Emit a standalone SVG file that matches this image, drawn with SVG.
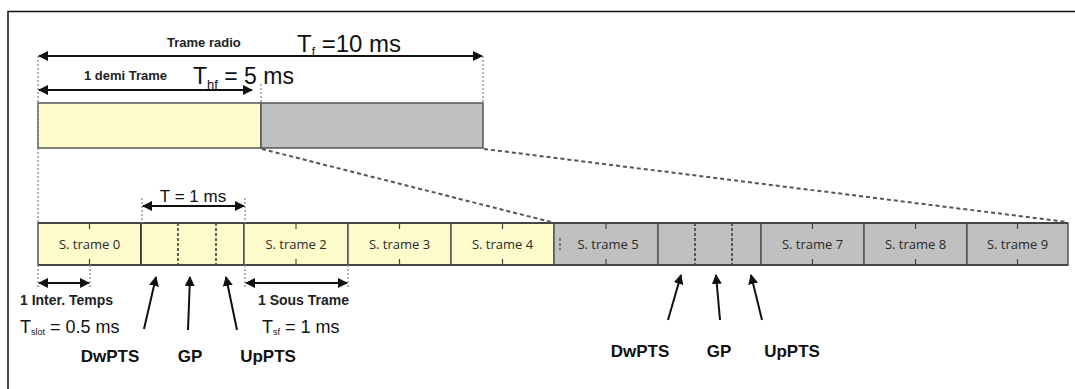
<svg xmlns="http://www.w3.org/2000/svg" width="1075" height="389" viewBox="0 0 1075 389">
  <defs>
    <marker id="head" viewBox="0 0 10 10" refX="9" refY="5" markerWidth="5" markerHeight="5" orient="auto-start-reverse" markerUnits="strokeWidth">
      <path d="M0,0 L10,5 L0,10 Z" fill="#111"/>
    </marker>
    <marker id="up" viewBox="0 0 10 10" refX="9" refY="5" markerWidth="5" markerHeight="5" orient="auto" markerUnits="strokeWidth">
      <path d="M0,0 L10,5 L0,10 Z" fill="#111"/>
    </marker>
  </defs>
  <style>
    .frame { fill: none; stroke: #111; stroke-width: 1.5; }
    .dim { stroke: #111; stroke-width: 2; fill: none; marker-start: url(#head); marker-end: url(#head); }
    .ptr { stroke: #111; stroke-width: 2; fill: none; marker-end: url(#up); }
    .guide { stroke: #999; stroke-width: 1.5; stroke-dasharray: 2 2; fill: none; }
    .zoom { stroke: #555; stroke-width: 2; stroke-dasharray: 4 3; fill: none; }
    .yel { fill: #fdfbcc; stroke: #555; stroke-width: 1.5; }
    .gry { fill: #c0c0c0; stroke: #555; stroke-width: 1.5; }
    .tick { stroke: #444; stroke-width: 1.2; }
    .split { stroke: #333; stroke-width: 1.5; stroke-dasharray: 3 2; }
    .cell { font-family: "Open Sans", "Liberation Sans", sans-serif; font-size: 13px; fill: #2a2a2a; text-anchor: middle; }
    .small { font-family: "Liberation Sans", Arial, sans-serif; font-size: 13px; font-weight: bold; fill: #222; }
    .small2 { font-family: "Liberation Sans", Arial, sans-serif; font-size: 14px; font-weight: bold; fill: #222; }
    .big { font-family: "Liberation Sans", Arial, sans-serif; fill: #111; }
    .lbl { font-family: "Liberation Sans", Arial, sans-serif; font-size: 17px; font-weight: bold; fill: #111; text-anchor: middle; }
  </style>

  <rect width="1075" height="389" fill="#fff"/>
  <!-- outer frame, left and top edges -->
  <path class="frame" d="M8,389 V11.5 H1075"/>

  <!-- radio frame: two half frames -->
  <g id="half-frame-1"><rect class="yel" x="38" y="103" width="223" height="45"/></g>
  <g id="half-frame-2"><rect class="gry" x="261" y="103" width="222" height="45"/></g>

  <!-- subframes -->
  <g id="sf0"><rect class="yel" x="38" y="223" width="103" height="42"/><line class="tick" x1="89.5" y1="223" x2="89.5" y2="229"/><line class="tick" x1="89.5" y1="259" x2="89.5" y2="265"/><text class="cell" x="89.5" y="249">S. trame 0</text></g>
  <g id="sf1"><rect class="yel" x="141" y="223" width="103" height="42" style="stroke:#222"/><line class="split" x1="178" y1="223" x2="178" y2="265"/><line class="split" x1="216" y1="223" x2="216" y2="265"/></g>
  <g id="sf2"><rect class="yel" x="244" y="223" width="104" height="42"/><line class="tick" x1="296" y1="223" x2="296" y2="229"/><line class="tick" x1="296" y1="259" x2="296" y2="265"/><text class="cell" x="296" y="249">S. trame 2</text></g>
  <g id="sf3"><rect class="yel" x="348" y="223" width="103" height="42"/><line class="tick" x1="399.5" y1="223" x2="399.5" y2="229"/><line class="tick" x1="399.5" y1="259" x2="399.5" y2="265"/><text class="cell" x="399.5" y="249">S. trame 3</text></g>
  <g id="sf4"><rect class="yel" x="451" y="223" width="103" height="42"/><line class="tick" x1="502.5" y1="223" x2="502.5" y2="229"/><line class="tick" x1="502.5" y1="259" x2="502.5" y2="265"/><text class="cell" x="502.5" y="249">S. trame 4</text></g>
  <g id="sf5"><rect class="gry" x="554" y="223" width="104" height="42"/><line class="tick" x1="606" y1="223" x2="606" y2="229"/><line class="tick" x1="606" y1="259" x2="606" y2="265"/><line class="split" x1="560" y1="238" x2="560" y2="250" style="stroke-width:1"/><text class="cell" x="608" y="249">S. trame 5</text></g>
  <g id="sf6"><rect class="gry" x="658" y="223" width="103" height="42"/><line class="split" x1="695" y1="223" x2="695" y2="265"/><line class="split" x1="732" y1="223" x2="732" y2="265"/></g>
  <g id="sf7"><rect class="gry" x="761" y="223" width="103" height="42"/><line class="tick" x1="812.5" y1="223" x2="812.5" y2="229"/><line class="tick" x1="812.5" y1="259" x2="812.5" y2="265"/><text class="cell" x="812.5" y="249">S. trame 7</text></g>
  <g id="sf8"><rect class="gry" x="864" y="223" width="103" height="42"/><line class="tick" x1="915.5" y1="223" x2="915.5" y2="229"/><line class="tick" x1="915.5" y1="259" x2="915.5" y2="265"/><text class="cell" x="915.5" y="249">S. trame 8</text></g>
  <g id="sf9"><rect class="gry" x="967" y="223" width="101" height="42"/><line class="tick" x1="1017.5" y1="223" x2="1017.5" y2="229"/><line class="tick" x1="1017.5" y1="259" x2="1017.5" y2="265"/><text class="cell" x="1017.5" y="249">S. trame 9</text></g>
  <line x1="38" y1="223" x2="1068" y2="223" stroke="#444" stroke-width="2"/>
  <line x1="38" y1="265" x2="1068" y2="265" stroke="#444" stroke-width="2"/>

  <!-- connectors: guides, zoom lines, dimension arrows and pointers -->
  <g id="connectors">
    <line class="guide" x1="38" y1="56" x2="38" y2="223"/>
    <line class="guide" x1="483" y1="56" x2="483" y2="103"/>
    <line class="guide" x1="261" y1="84" x2="261" y2="103"/>
    <line class="guide" x1="142" y1="198" x2="142" y2="223"/>
    <line class="guide" x1="245" y1="198" x2="245" y2="223"/>
    <line class="guide" x1="38" y1="265" x2="38" y2="288"/>
    <line class="guide" x1="90" y1="265" x2="90" y2="288"/>
    <line class="guide" x1="245" y1="265" x2="245" y2="288"/>
    <line class="guide" x1="348" y1="265" x2="348" y2="288"/>

    <line class="zoom" x1="262" y1="149" x2="551" y2="222"/>
    <line class="zoom" x1="484" y1="149" x2="1067" y2="222"/>

    <line class="dim" x1="39" y1="56" x2="482" y2="56"/>
    <line class="dim" x1="39" y1="90" x2="252" y2="90"/>
    <line class="dim" x1="143" y1="206" x2="244" y2="206"/>
    <line class="dim" x1="39" y1="283" x2="89" y2="283"/>
    <line class="dim" x1="246" y1="283" x2="347" y2="283"/>

    <line class="ptr" x1="144" y1="329" x2="156" y2="277"/>
    <line class="ptr" x1="188" y1="330" x2="190" y2="277"/>
    <line class="ptr" x1="237" y1="330" x2="226" y2="277"/>
    <line class="ptr" x1="668" y1="320" x2="681" y2="275"/>
    <line class="ptr" x1="720" y1="320" x2="716" y2="275"/>
    <line class="ptr" x1="762" y1="320" x2="751" y2="275"/>
  </g>

  <!-- labels -->
  <text class="small" x="167" y="47">Trame radio</text>
  <text class="big" x="297" y="52" font-size="24">T<tspan font-size="12" dy="4">f</tspan><tspan dy="-4"> =10 ms</tspan></text>
  <text class="small" x="84" y="80">1 demi Trame</text>
  <text class="big" x="193" y="84" font-size="23">T<tspan font-size="13" dy="5">hf</tspan><tspan dy="-5"> = 5 ms</tspan></text>
  <text class="big" x="193" y="202" font-size="17" text-anchor="middle">T = 1 ms</text>

  <text class="small2" x="20" y="305">1 Inter. Temps</text>
  <text class="big" x="20" y="333" font-size="18">T<tspan font-size="9" dy="2">slot</tspan><tspan dy="-2"> = 0.5 ms</tspan></text>
  <text class="small2" x="258" y="305">1 Sous Trame</text>
  <text class="big" x="262" y="333" font-size="18">T<tspan font-size="9" dy="2">sf</tspan><tspan dy="-2"> = 1 ms</tspan></text>

  <text class="lbl" x="110" y="362">DwPTS</text>
  <text class="lbl" x="190" y="362">GP</text>
  <text class="lbl" x="268" y="362">UpPTS</text>
  <text class="lbl" x="640" y="357">DwPTS</text>
  <text class="lbl" x="719" y="357">GP</text>
  <text class="lbl" x="792" y="357">UpPTS</text>
</svg>
